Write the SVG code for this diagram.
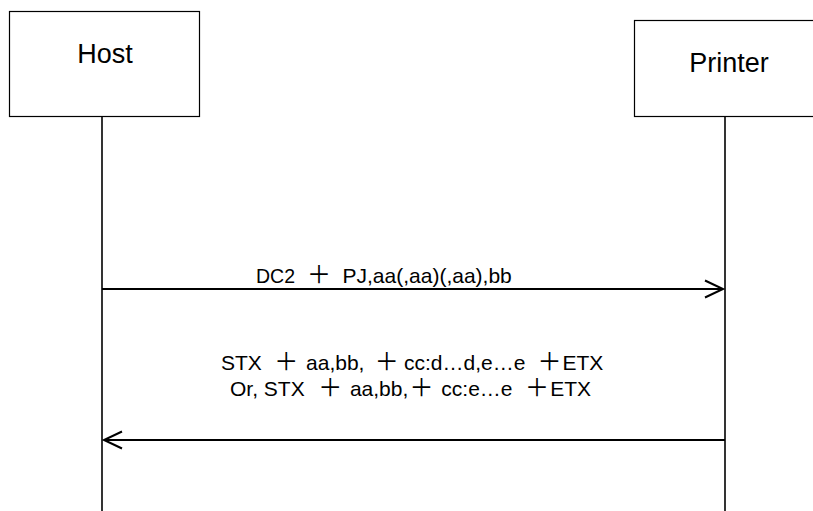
<svg xmlns="http://www.w3.org/2000/svg" width="813" height="511" viewBox="0 0 813 511">
<style>
.box{fill:#fff;stroke:#000;stroke-width:1.2}
.life{stroke:#000;stroke-width:1.6;fill:none}
.msg{stroke:#000;stroke-width:2;fill:none}
.t{font-family:"Liberation Sans","Noto Sans CJK JP",Arial,sans-serif;fill:#000}
.big{font-size:27px;text-anchor:middle}
.lbl{font-size:21px}
.p{font-family:"Noto Sans CJK JP","Liberation Sans",sans-serif;font-size:24px}
</style>
<defs>
<marker id="open" markerUnits="userSpaceOnUse" markerWidth="24" markerHeight="22" refX="20" refY="11" orient="auto">
<path d="M2,2.5 L20,11 L2,19.5" fill="none" stroke="#000" stroke-width="2"/>
</marker>
</defs>
<g id="host">
<rect class="box" x="9.5" y="11.5" width="190" height="105"/>
<text class="t big" x="105" y="63">Host</text>
</g>
<g id="printer">
<rect class="box" x="634.5" y="20.5" width="190" height="96"/>
<text class="t big" x="729" y="72">Printer</text>
</g>
<g id="connectors">
<line class="life" x1="102" y1="117" x2="102" y2="511"/>
<line class="life" x1="725" y1="117" x2="725" y2="511"/>
<line class="msg" x1="102" y1="289" x2="723" y2="289" marker-end="url(#open)"/>
<line class="msg" x1="725" y1="440" x2="104" y2="440" marker-end="url(#open)"/>
</g>
<g id="labels">
<text class="t lbl" y="283"><tspan x="256" font-size="19.5">DC2 </tspan><tspan class="p" x="307">＋</tspan><tspan x="336.7"> PJ,aa(,aa)(,aa),bb</tspan></text>
<text class="t lbl" y="370"><tspan x="221">STX </tspan><tspan class="p" x="274.3">＋</tspan><tspan x="300.2"> aa,bb, </tspan><tspan class="p" x="374.7">＋</tspan><tspan x="398.2"> cc:d…d,e…e </tspan><tspan class="p" x="537.5">＋</tspan><tspan x="562.5">ETX</tspan></text>
<text class="t lbl" y="396"><tspan x="230">Or, STX </tspan><tspan class="p" x="318.3">＋</tspan><tspan x="344.1"> aa,bb,</tspan><tspan class="p" x="409.6">＋</tspan><tspan x="435.5"> cc:e…e </tspan><tspan class="p" x="524.9">＋</tspan><tspan x="550.2">ETX</tspan></text>
</g>
</svg>
